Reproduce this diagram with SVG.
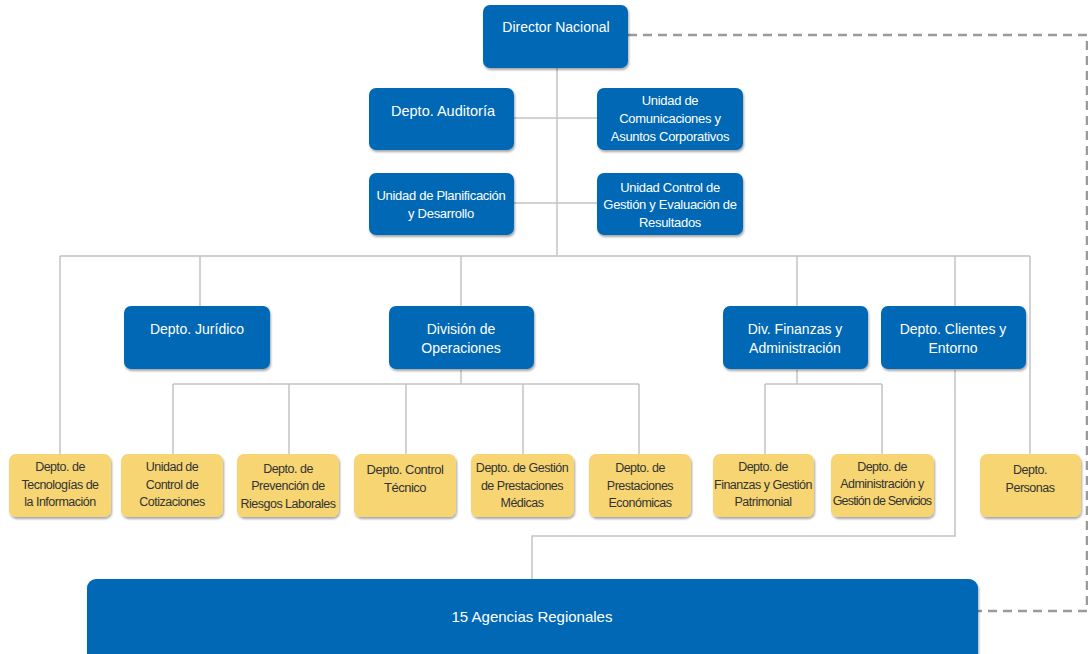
<svg xmlns="http://www.w3.org/2000/svg" width="1088" height="654" viewBox="0 0 1088 654">
<style>
.b{fill:#0068B4;filter:url(#sh)}
.y{fill:#F6D572;filter:url(#sh)}
.tb{fill:#fff;font-family:"Liberation Sans",Arial,sans-serif;font-size:14px;text-anchor:middle;letter-spacing:0px}
.ts{fill:#fff;font-family:"Liberation Sans",Arial,sans-serif;font-size:13px;text-anchor:middle;letter-spacing:-0.3px}
.ty{fill:#333;font-family:"Liberation Sans",Arial,sans-serif;font-size:12.5px;text-anchor:middle;letter-spacing:-0.5px}
.ln{fill:none;stroke:#c4c4c4;stroke-width:1.5}
.bus{fill:none;stroke:#cfcfcf;stroke-width:2.2}
.dash{fill:none;stroke:#9a9a9a;stroke-width:2.5;stroke-dasharray:9 6}
</style>
<defs>
<filter id="sh" x="-10%" y="-10%" width="120%" height="130%">
<feDropShadow dx="1" dy="2" stdDeviation="1" flood-color="#000" flood-opacity="0.35"/>
</filter>
</defs>
<rect width="1088" height="654" fill="#fff"/>
<g id="connectors">
<path class="ln" d="M557 68V256M514 118H597M514 203H597"/>
<path class="bus" d="M60 256H1030"/>
<path class="ln" d="M60 256V455M200 256V307M461 256V307M797 256V307M955 256V307M1030 256V455"/>
<path class="ln" d="M461 370V384M173 384H639M173 384V455M289 384V455M406 384V455M523 384V455M639 384V455"/>
<path class="ln" d="M797 370V384M765 384H882M765 384V455M882 384V455"/>
<path class="ln" d="M955 370V536H532V580"/>
<path class="dash" d="M628 35H1087V611H978"/>
</g>
<g id="director"><rect class="b" x="483" y="5" width="145" height="63" rx="7"/><text class="tb" x="556" y="32">Director Nacional</text></g>
<g id="auditoria"><rect class="b" x="369" y="88" width="145" height="62" rx="7"/><text class="tb" x="443" y="116" style="font-size:14.5px">Depto. Auditoría</text></g>
<g id="comunicaciones"><rect class="b" x="597" y="88" width="146" height="62" rx="7"/><text class="ts" x="670" y="105">Unidad de</text><text class="ts" x="670" y="123">Comunicaciones y</text><text class="ts" x="670" y="141">Asuntos Corporativos</text></g>
<g id="planificacion"><rect class="b" x="369" y="173" width="145" height="62" rx="7"/><text class="ts" x="441" y="200">Unidad de Planificación</text><text class="ts" x="441" y="218">y Desarrollo</text></g>
<g id="control-gestion"><rect class="b" x="597" y="173" width="146" height="62" rx="7"/><text class="ts" x="670" y="192">Unidad Control de</text><text class="ts" x="670" y="209">Gestión y Evaluación de</text><text class="ts" x="670" y="227">Resultados</text></g>
<g id="juridico"><rect class="b" x="124" y="306" width="146" height="63" rx="7"/><text class="tb" x="197" y="334">Depto. Jurídico</text></g>
<g id="operaciones"><rect class="b" x="389" y="306" width="145" height="63" rx="7"/><text class="tb" x="461" y="334">División de</text><text class="tb" x="461" y="353">Operaciones</text></g>
<g id="finanzas"><rect class="b" x="723" y="306" width="145" height="63" rx="7"/><text class="tb" x="795" y="334">Div. Finanzas y</text><text class="tb" x="795" y="353">Administración</text></g>
<g id="clientes"><rect class="b" x="881" y="306" width="145" height="63" rx="7"/><text class="tb" x="953" y="334">Depto. Clientes y</text><text class="tb" x="953" y="353">Entorno</text></g>
<g id="tecnologias"><rect class="y" x="9" y="454" width="102" height="63" rx="7"/><text class="ty" x="60" y="471">Depto. de</text><text class="ty" x="60" y="489">Tecnologías de</text><text class="ty" x="60" y="506">la Información</text></g>
<g id="cotizaciones"><rect class="y" x="121" y="454" width="102" height="63" rx="7"/><text class="ty" x="172" y="471">Unidad de</text><text class="ty" x="172" y="489">Control de</text><text class="ty" x="172" y="506">Cotizaciones</text></g>
<g id="riesgos"><rect class="y" x="237" y="454" width="102" height="63" rx="7"/><text class="ty" x="288" y="473">Depto. de</text><text class="ty" x="288" y="490">Prevención de</text><text class="ty" x="288" y="508">Riesgos Laborales</text></g>
<g id="control-tecnico"><rect class="y" x="354" y="454" width="102" height="63" rx="7"/><text class="ty" x="405" y="474" style="font-size:13px">Depto. Control</text><text class="ty" x="405" y="492" style="font-size:13px">Técnico</text></g>
<g id="prestaciones-medicas"><rect class="y" x="471" y="454" width="103" height="63" rx="7"/><text class="ty" x="522" y="472">Depto. de Gestión</text><text class="ty" x="522" y="490">de Prestaciones</text><text class="ty" x="522" y="507">Médicas</text></g>
<g id="prestaciones-economicas"><rect class="y" x="589" y="454" width="102" height="63" rx="7"/><text class="ty" x="640" y="472">Depto. de</text><text class="ty" x="640" y="490">Prestaciones</text><text class="ty" x="640" y="507">Económicas</text></g>
<g id="finanzas-patrimonial"><rect class="y" x="713" y="454" width="101" height="63" rx="7"/><text class="ty" x="763" y="471">Depto. de</text><text class="ty" x="763" y="489">Finanzas y Gestión</text><text class="ty" x="763" y="506">Patrimonial</text></g>
<g id="administracion"><rect class="y" x="831" y="454" width="103" height="63" rx="7"/><text class="ty" x="882" y="471">Depto. de</text><text class="ty" x="882" y="488">Administración y</text><text class="ty" x="882" y="505" style="letter-spacing:-0.8px">Gestión de Servicios</text></g>
<g id="personas"><rect class="y" x="980" y="454" width="101" height="63" rx="7"/><text class="ty" x="1030" y="474">Depto.</text><text class="ty" x="1030" y="492">Personas</text></g>
<g id="agencias"><rect class="b" x="87" y="579" width="891" height="85" rx="9"/><text class="tb" x="532" y="622" style="font-size:15px">15 Agencias Regionales</text></g>
</svg>
